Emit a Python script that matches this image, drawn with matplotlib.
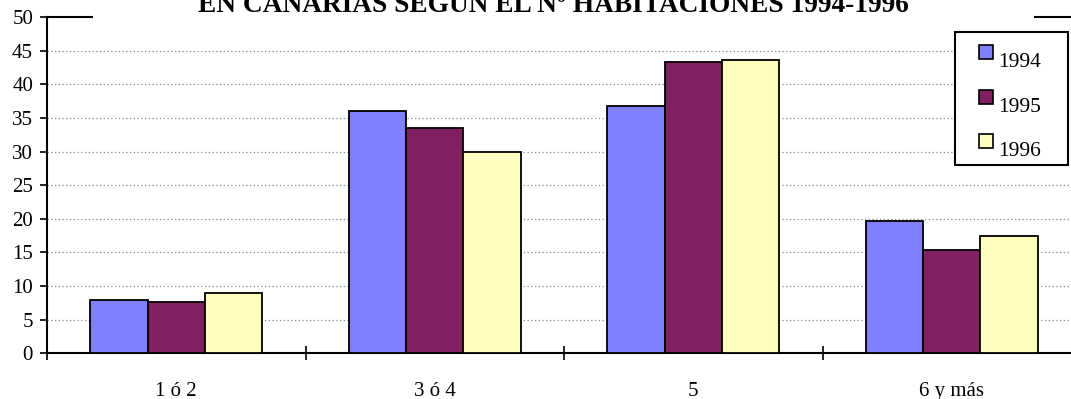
import matplotlib
matplotlib.use("Agg")
import matplotlib.pyplot as plt
from matplotlib.patches import Rectangle
import numpy as np

categories = ["1 ó 2", "3 ó 4", "5", "6 y más"]
years = ["1994", "1995", "1996"]
v1994 = [7.9, 36.0, 36.8, 19.6]
v1995 = [7.6, 33.5, 43.35, 15.4]
v1996 = [8.9, 29.9, 43.65, 17.5]
series = [v1994, v1995, v1996]
colors = ["#8080FF", "#802060", "#FFFFC0"]
title = "EN CANARIAS SEGÚN EL Nº HABITACIONES 1994-1996"

W, H = 1071, 399
plt.rcParams['font.family'] = ['Liberation Serif', 'DejaVu Serif']
fig = plt.figure(figsize=(W / 100, H / 100), dpi=100)

def fx(px):
    return px / W

def fy(py):
    return 1 - py / H

left_px, right_px, top_px, bot_px = 47, 1071, 17, 353.3
ax = fig.add_axes([fx(left_px), fy(bot_px), fx(right_px) - fx(left_px), (bot_px - top_px) / H])

cat_px = 258.5
x = np.arange(len(categories)) + 0.5
bw = 0.222
for i, (vals, c) in enumerate(zip(series, colors)):
    ax.bar(x + (i - 1) * bw, vals, width=bw, color=c, edgecolor="black", linewidth=1.3, zorder=3)

ax.set_yticks(np.arange(0, 51, 5))
ax.set_xticks(np.arange(0, len(categories)))
ax.set_xticklabels([])
ax.set_xticks(x, minor=True)
ax.set_xticklabels(categories, minor=True)
ax.set_xlim(0, (right_px - left_px) / cat_px)
ax.set_ylim(0, 50)
ax.tick_params(axis='x', which='major', direction='inout', length=9.5, width=1.2)
ax.tick_params(axis='x', which='minor', length=0, pad=20.5, labelsize=15)
ax.tick_params(axis='y', direction='out', length=5, width=1.2, pad=5, labelsize=15)

for s in ["top", "right"]:
    ax.spines[s].set_visible(False)
for s in ["left", "bottom"]:
    ax.spines[s].set_linewidth(1.5)

for yv in np.arange(5, 50, 5):
    ax.axhline(yv, color="#888888", linewidth=0.9, linestyle=(0, (1, 2)), zorder=1)

# partial top border
ax.plot([0, (92 - left_px) / (right_px - left_px)], [1, 1], transform=ax.transAxes,
        color="black", linewidth=1.5, clip_on=False)
ax.plot([(1035 - left_px) / (right_px - left_px), 1], [1, 1], transform=ax.transAxes,
        color="black", linewidth=1.5, clip_on=False)
ax.set_xlim(0, (right_px - left_px) / cat_px)

fig.text(fx(553.5), fy(12), title, ha="center", va="baseline", fontsize=19.7, fontweight="bold")

# legend
fig.patches.append(Rectangle((fx(955), fy(165)), fx(1068) - fx(955), (165 - 32) / H,
                             transform=fig.transFigure, facecolor="white", edgecolor="black",
                             linewidth=1.5, zorder=5))
for i, (yr, c) in enumerate(zip(years, colors)):
    ptop = 45 + i * 44.5
    fig.patches.append(Rectangle((fx(979), fy(ptop + 14)), fx(993) - fx(979), 14 / H,
                                 transform=fig.transFigure, facecolor=c, edgecolor="black",
                                 linewidth=1.2, zorder=6))
    fig.text(fx(998), fy(ptop + 22), yr, ha="left", va="baseline", fontsize=15.5, zorder=7)

fig.savefig("out.png", dpi=100)
